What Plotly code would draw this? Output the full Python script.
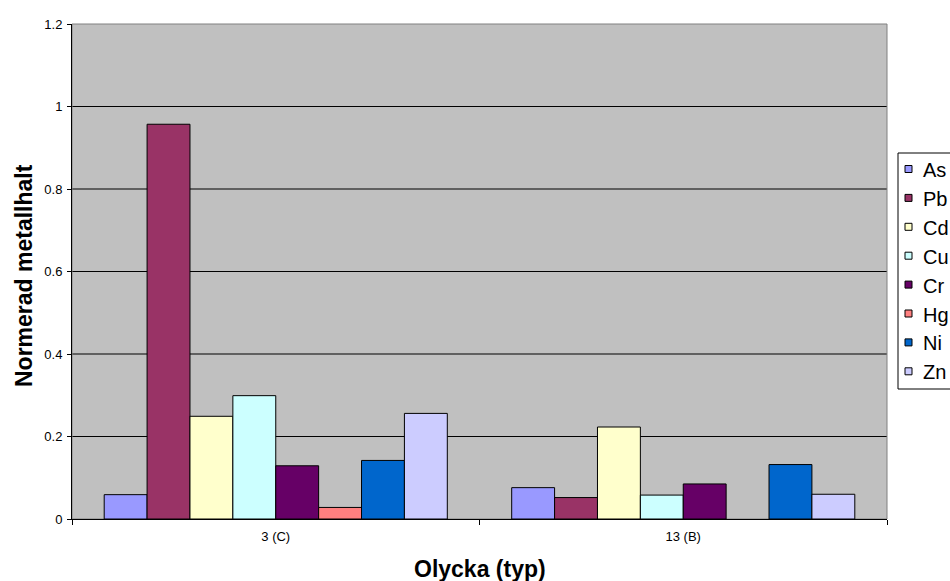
import plotly.graph_objects as go

# Data
categories = ["3 (C)", "13 (B)"]
metals = ["As", "Pb", "Cd", "Cu", "Cr", "Hg", "Ni", "Zn"]
colors = ["#9999FF", "#993366", "#FFFFCC", "#CCFFFF", "#660066", "#FF8080", "#0066CC", "#CCCCFF"]
values = {
    "As": [0.059, 0.076],
    "Pb": [0.957, 0.052],
    "Cd": [0.249, 0.223],
    "Cu": [0.299, 0.058],
    "Cr": [0.129, 0.085],
    "Hg": [0.028, None],
    "Ni": [0.142, 0.132],
    "Zn": [0.256, 0.060],
}
y_ticks = [0, 0.2, 0.4, 0.6, 0.8, 1.0, 1.2]
y_ticktext = ["0", "0.2", "0.4", "0.6", "0.8", "1", "1.2"]
grid_vals = [0.2, 0.4, 0.6, 0.8, 1.0]

FONT = "Liberation Sans, Arial, sans-serif"
W, H = 950, 581
L, R, T, B = 72, 887, 24, 519  # plot area in pixels


def px_x(px):
    return (px - L) / (R - L)


def px_y(py):
    return (B - py) / (B - T)


fig = go.Figure()
for m, c in zip(metals, colors):
    fig.add_trace(go.Bar(
        name=m, x=categories, y=values[m],
        marker=dict(color=c, line=dict(color="#000000", width=1)),
        showlegend=False,
    ))

shapes = []
# horizontal gridlines
for g in grid_vals:
    shapes.append(dict(type="line", xref="paper", yref="y", x0=0, x1=1, y0=g, y1=g,
                       line=dict(color="#000000", width=1), layer="below"))
# plot area border
shapes.append(dict(type="rect", xref="paper", yref="paper", x0=0, x1=1, y0=0, y1=1,
                   line=dict(color="#808080", width=1), layer="below"))

# legend box and entries
leg_x0, leg_x1, leg_y0, leg_y1 = 898, 953, 153, 389
shapes.append(dict(type="rect", xref="paper", yref="paper",
                   x0=px_x(leg_x0), x1=px_x(leg_x1), y0=px_y(leg_y1), y1=px_y(leg_y0),
                   line=dict(color="#000000", width=1), fillcolor="#FFFFFF", layer="above"))
annotations = []
first_y, step = 169, 28.9
for i, (m, c) in enumerate(zip(metals, colors)):
    cy = first_y + i * step
    shapes.append(dict(type="rect", xref="paper", yref="paper",
                       x0=px_x(905), x1=px_x(912), y0=px_y(cy + 3.5), y1=px_y(cy - 3.5),
                       line=dict(color="#000000", width=1), fillcolor=c, layer="above"))
    annotations.append(dict(text=m, xref="paper", yref="paper", x=px_x(921), y=px_y(cy + 1),
                            xanchor="left", yanchor="middle", showarrow=False,
                            font=dict(family=FONT, size=20, color="#000000")))

# axis titles
annotations.append(dict(text="<b>Normerad metallhalt</b>", xref="paper", yref="paper",
                        x=px_x(24), y=px_y(276), textangle=-90, showarrow=False,
                        xanchor="center", yanchor="middle",
                        font=dict(family=FONT, size=23, color="#000000")))
annotations.append(dict(text="<b>Olycka (typ)</b>", xref="paper", yref="paper",
                        x=px_x(480), y=px_y(569), showarrow=False,
                        xanchor="center", yanchor="middle",
                        font=dict(family=FONT, size=23, color="#000000")))

fig.update_layout(
    width=W, height=H,
    margin=dict(l=L, r=W - R, t=T, b=H - B, pad=0),
    paper_bgcolor="#FFFFFF",
    plot_bgcolor="#C0C0C0",
    barmode="group",
    bargap=0.158,
    bargroupgap=0,
    showlegend=False,
    shapes=shapes,
    annotations=annotations,
    font=dict(family=FONT, size=13, color="#000000"),
)
fig.update_xaxes(
    type="category", showgrid=False, showline=True, linecolor="#000000", linewidth=1,
    ticks="outside", tickson="boundaries", ticklen=5, tickcolor="#000000",
    ticklabelstandoff=5,
    tickfont=dict(family=FONT, size=13, color="#000000"), zeroline=False,
)
fig.update_yaxes(
    range=[0, 1.2], tickvals=y_ticks, ticktext=y_ticktext, showgrid=False,
    showline=True, linecolor="#000000", linewidth=1, zeroline=False,
    ticks="outside", ticklen=4, tickcolor="#000000", ticklabelstandoff=2,
    tickfont=dict(family=FONT, size=13, color="#000000"),
)

fig.write_html("out.html")
